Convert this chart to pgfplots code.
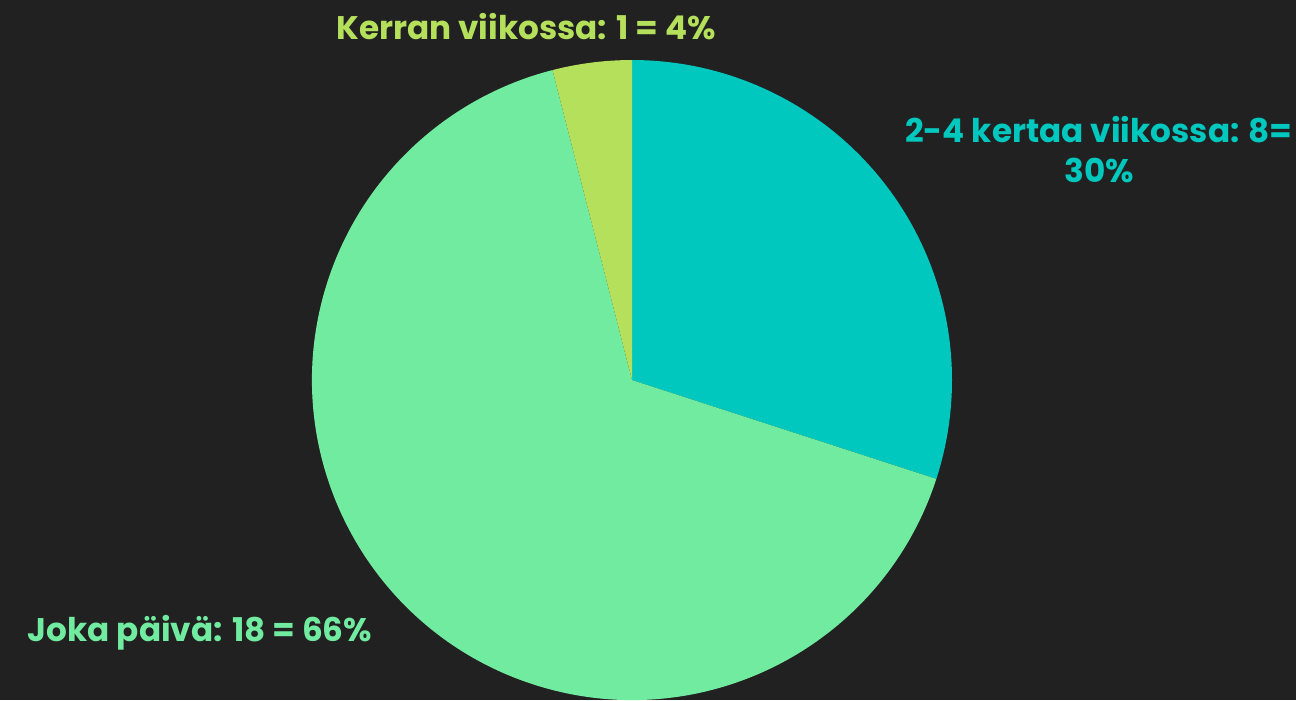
\documentclass[border=0pt]{standalone}
\usepackage{fontspec}
\setmainfont{Poppins}
\usepackage{pgfplots}
\usepackage{pgfplotstable}
\pgfplotsset{compat=1.18}

\definecolor{bgdark}{HTML}{212121}
\definecolor{cteal}{HTML}{00C8BE}
\definecolor{cgreen}{HTML}{71EBA0}
\definecolor{clime}{HTML}{B5E05C}

% share of answers, in %, clockwise from 12 o'clock
\pgfplotstableread{
count pct
8  30
18 66
1  4
}\piedata

\begin{document}
\begin{tikzpicture}
\pgfplotstablegetelem{0}{pct}\of\piedata \let\pA\pgfplotsretval
\pgfplotstablegetelem{1}{pct}\of\piedata \let\pB\pgfplotsretval
\pgfplotstablegetelem{2}{pct}\of\piedata \let\pC\pgfplotsretval
\pgfmathsetmacro\aA{90-3.6*\pA}
\pgfmathsetmacro\aB{\aA-3.6*\pB}
\pgfmathsetmacro\aC{\aB-3.6*\pC}
\begin{axis}[
  hide axis, scale only axis, clip=false,
  width=12.96cm, height=7cm,
  xmin=0, xmax=1296, ymin=0, ymax=700,
]
\fill[bgdark] (axis cs:0,0) rectangle (axis cs:1296,700);
\fill[cteal]  (axis cs:632,320) -- ++(90:3.2cm)  arc[start angle=90,  end angle=\aA, radius=3.2cm] -- cycle;
\fill[cgreen] (axis cs:632,320) -- ++(\aA:3.2cm) arc[start angle=\aA, end angle=\aB, radius=3.2cm] -- cycle;
\fill[clime]  (axis cs:632,320) -- ++(\aB:3.2cm) arc[start angle=\aB, end angle=\aC, radius=3.2cm] -- cycle;
\begin{scope}[font=\fontsize{9.3pt}{11.4pt}\selectfont\bfseries]
\node[clime] at (axis cs:526,673) {Kerran viikossa: 1 = 4\%};
\node[cteal, align=center] at (axis cs:1099,550) {2-4 kertaa viikossa: 8=\\30\%};
\node[cgreen] at (axis cs:200,67) {Joka päivä: 18 = 66\%};
\end{scope}
\end{axis}
\pgfresetboundingbox
\path[use as bounding box] (0,0) rectangle (12.96cm,7cm);
\end{tikzpicture}
\end{document}
